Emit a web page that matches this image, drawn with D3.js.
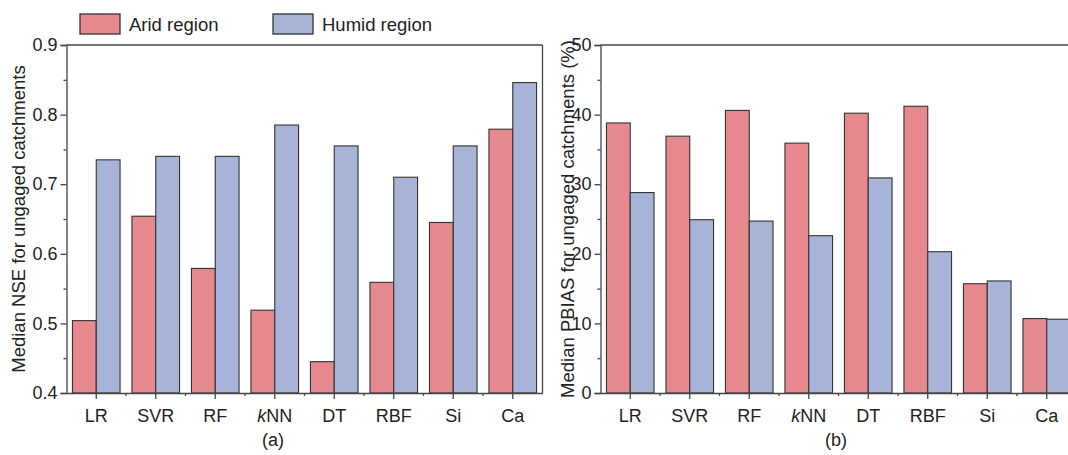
<!DOCTYPE html>
<html>
<head>
<meta charset="utf-8">
<script src="https://cdn.jsdelivr.net/npm/d3@7"></script>
<style>
  html, body { margin: 0; padding: 0; background: #fff; }
  svg { display: block; font-family: "Liberation Sans", Arial, sans-serif; }
</style>
</head>
<body>
<svg id="chart" width="1068" height="455"></svg>
<script>
// ---------------- data ----------------
const categories = ["LR", "SVR", "RF", "kNN", "DT", "RBF", "Si", "Ca"];
const seriesNames = ["Arid region", "Humid region"];
const nseArid   = [0.504, 0.654, 0.579, 0.519, 0.445, 0.559, 0.645, 0.779];
const nseHumid  = [0.735, 0.740, 0.740, 0.785, 0.755, 0.710, 0.755, 0.846];
const pbiasArid  = [38.8, 36.9, 40.6, 35.9, 40.2, 41.2, 15.7, 10.7];
const pbiasHumid = [28.8, 24.9, 24.7, 22.6, 30.9, 20.3, 16.1, 10.6];
const nseTicks   = [0.4, 0.5, 0.6, 0.7, 0.8, 0.9];
const nseMinor   = [0.45, 0.55, 0.65, 0.75, 0.85];
const pbiasTicks = [0, 10, 20, 30, 40, 50];
const pbiasMinor = [5, 15, 25, 35, 45];
const panelLabels = ["(a)", "(b)"];
const yTitles = ["Median NSE for ungaged catchments", "Median PBIAS for ungaged catchments (%)"];

// ---------------- styles ----------------
const colors = { "Arid region": "#E6898F", "Humid region": "#A8B3D8" };
const strokeCol = "#333";
const axisCol = "#444";
const fontSize = 18;

const svg = d3.select("#chart");
const plotTop = 45, plotBottom = 393;

const panels = [
  { left: 66.5, right: 542.5, arid: nseArid, humid: nseHumid, domain: [0.4, 0.9], ticks: nseTicks, minor: nseMinor,
    fmt: d3.format(".1f"), title: yTitles[0], titleX: 19, label: panelLabels[0], labelX: 273 },
  { left: 600.5, right: 1076.5, arid: pbiasArid, humid: pbiasHumid, domain: [0, 50], ticks: pbiasTicks, minor: pbiasMinor,
    fmt: d3.format("d"), title: yTitles[1], titleX: 568, label: panelLabels[1], labelX: 836 }
];

panels.forEach(p => {
  const g = svg.append("g");
  const x = d3.scaleBand().domain(categories).range([p.left, p.right]).paddingInner(0.2).paddingOuter(0.1);
  const xs = d3.scaleBand().domain(seriesNames).range([0, x.bandwidth()]).padding(0);
  const y = d3.scaleLinear().domain(p.domain).range([plotBottom, plotTop]);

  // bars
  const rows = categories.map((c, i) => ({ c, vals: [p.arid[i], p.humid[i]] }));
  const grp = g.selectAll("g.cat").data(rows).join("g").attr("class", "cat")
    .attr("transform", d => `translate(${x(d.c)},0)`);
  grp.selectAll("rect").data(d => d.vals.map((v, j) => ({ s: seriesNames[j], v })))
    .join("rect")
    .attr("x", d => xs(d.s))
    .attr("width", xs.bandwidth())
    .attr("y", d => y(d.v))
    .attr("height", d => y(p.domain[0]) - y(d.v))
    .attr("fill", d => colors[d.s])
    .attr("stroke", strokeCol)
    .attr("stroke-width", 1.1);

  // frame (top & right)
  g.append("line").attr("x1", p.left).attr("x2", p.right).attr("y1", plotTop).attr("y2", plotTop)
    .attr("stroke", axisCol).attr("stroke-width", 1.3);
  g.append("line").attr("x1", p.right).attr("x2", p.right).attr("y1", plotTop).attr("y2", plotBottom)
    .attr("stroke", axisCol).attr("stroke-width", 1.3);

  // y axis
  const yAxis = g.append("g").attr("transform", `translate(${p.left},0)`)
    .call(d3.axisLeft(y).tickValues(p.ticks).tickFormat(p.fmt).tickSize(6).tickPadding(3));
  yAxis.select(".domain").attr("stroke", axisCol).attr("stroke-width", 1.3);
  yAxis.selectAll(".tick line").attr("stroke", axisCol).attr("stroke-width", 1.3);
  yAxis.selectAll("text").attr("font-size", fontSize).attr("fill", "#222")
    .attr("font-family", "Liberation Sans, Arial, sans-serif");
  const yMinor = g.append("g").attr("transform", `translate(${p.left},0)`)
    .call(d3.axisLeft(y).tickValues(p.minor).tickFormat("").tickSize(3));
  yMinor.select(".domain").remove();
  yMinor.selectAll(".tick line").attr("stroke", axisCol).attr("stroke-width", 1.3);

  // x axis
  const xAxis = g.append("g").attr("transform", `translate(0,${plotBottom})`)
    .call(d3.axisBottom(x).tickSize(6).tickPadding(10).tickSizeOuter(0));
  xAxis.select(".domain").attr("stroke", axisCol).attr("stroke-width", 1.3);
  xAxis.selectAll(".tick line").attr("stroke", axisCol).attr("stroke-width", 1.3);
  xAxis.selectAll("text").attr("font-size", fontSize).attr("fill", "#222")
    .attr("font-family", "Liberation Sans, Arial, sans-serif")
    .each(function(d) {
      if (d === "kNN") {
        const t = d3.select(this).text(null);
        t.append("tspan").attr("font-style", "italic").text("k");
        t.append("tspan").text("NN");
      }
    });
  // minor x ticks at band boundaries
  const step = x.step();
  const bounds = categories.slice(1).map(c => x(c) - step * x.paddingInner() / 2);
  g.selectAll("line.xminor").data(bounds).join("line").attr("class", "xminor")
    .attr("x1", d => d).attr("x2", d => d).attr("y1", plotBottom).attr("y2", plotBottom + 3)
    .attr("stroke", axisCol).attr("stroke-width", 1.3);

  // y title
  g.append("text")
    .attr("transform", `translate(${p.titleX},${(plotTop + plotBottom) / 2}) rotate(-90)`)
    .attr("text-anchor", "middle").attr("dy", "0.35em")
    .attr("font-size", 18.5).attr("fill", "#222").text(p.title);

  // panel label
  g.append("text").attr("x", p.labelX).attr("y", 446).attr("text-anchor", "middle")
    .attr("font-size", fontSize).attr("fill", "#222").text(p.label);
});

// legend
const legendX = [80, 273];
const lg = svg.selectAll("g.leg").data(seriesNames).join("g").attr("class", "leg")
  .attr("transform", (d, i) => `translate(${legendX[i]},14)`);
lg.append("rect").attr("width", 40).attr("height", 20)
  .attr("fill", d => colors[d]).attr("stroke", strokeCol).attr("stroke-width", 1.3);
lg.append("text").attr("x", 49).attr("y", 16.5).attr("font-size", 18.5).attr("fill", "#222").text(d => d);
</script>
</body>
</html>
